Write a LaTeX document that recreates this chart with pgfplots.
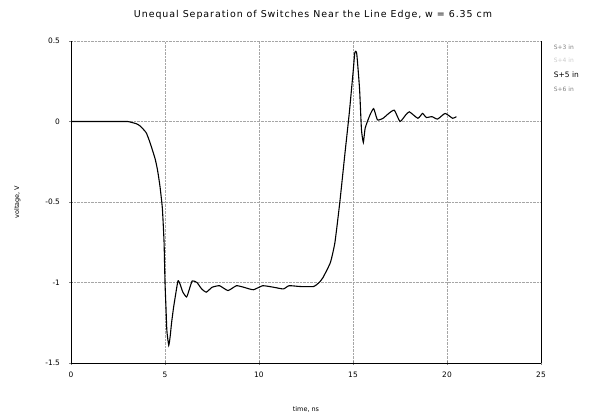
\documentclass[border=0pt]{standalone}
\usepackage{fontspec}
\setmainfont{DejaVu Sans}
\usepackage{pgfplots}
\pgfplotsset{compat=1.18}
\begin{document}
\begin{tikzpicture}
\begin{axis}[
  scale only axis,
  width=470bp, height=322bp,
  xmin=0, xmax=25, ymin=-1.5, ymax=0.5,
  xtick={0,5,10,15,20,25},
  ytick={-1.5,-1,-0.5,0,0.5},
  axis x line*=bottom, axis y line*=left,
  tick align=center,
  major tick length=3bp,
  grid=major,
  major grid style={densely dotted, gray!70, line width=0.5pt},
  /pgf/number format/assume math mode=true,
  ticklabel style={font=\fontsize{7.5}{8}\selectfont},
  xticklabel style={yshift=-4bp},
  yticklabel style={/pgf/number format/fixed, xshift=-6bp},
  xlabel={time, ns},
  ylabel={voltage, V},
  label style={font=\fontsize{6.5}{7}\selectfont},
  xlabel style={yshift=-22bp},
  ylabel style={yshift=18bp},
  title={\addfontfeatures{LetterSpace=10}Unequal Separation of Switches Near the Line Edge, w = 6.35 cm},
  title style={font=\fontsize{9.5}{10}\selectfont, yshift=12bp, xshift=7bp},
  clip=false,
]
\addplot[black, line width=1.1pt, smooth, tension=0.3] coordinates {
(0,0) (1,0) (2,0) (3,0) (3.2,-0.005) (3.5,-0.015) (3.7,-0.03) (4.0,-0.07) (4.2,-0.13) (4.47,-0.23) (4.6,-0.3) (4.73,-0.4) (4.86,-0.54) (4.95,-0.75) (5.0,-1.0) (5.05,-1.15) (5.1,-1.3) (5.2,-1.39) (5.28,-1.33) (5.35,-1.25) (5.45,-1.16) (5.53,-1.1) (5.69,-0.99) (5.8,-1.01) (5.95,-1.06) (6.15,-1.09) (6.3,-1.04) (6.45,-0.99) (6.7,-1.0) (6.95,-1.04) (7.2,-1.06) (7.5,-1.03) (7.9,-1.02) (8.35,-1.05) (8.8,-1.02) (9.2,-1.03) (9.7,-1.045) (10.2,-1.02) (10.8,-1.03) (11.3,-1.04) (11.6,-1.02) (12.2,-1.025) (12.9,-1.025) (13.2,-1.0) (13.4,-0.97) (13.8,-0.875) (14.04,-0.75) (14.3,-0.5) (14.57,-0.2) (14.8,0.05) (15.0,0.3) (15.1,0.43) (15.2,0.42) (15.35,0.2) (15.45,-0.05) (15.55,-0.13) (15.65,-0.04) (15.9,0.04) (16.1,0.08) (16.3,0.01) (16.6,0.02) (16.9,0.05) (17.2,0.07) (17.5,0.0) (17.8,0.04) (18.0,0.06) (18.45,0.02) (18.7,0.05) (18.9,0.025) (19.2,0.03) (19.5,0.015) (19.9,0.05) (20.3,0.02) (20.5,0.03)
};
\draw[black, line width=0.6pt] (rel axis cs:1,0) -- (rel axis cs:1,1);
\node[anchor=west, font=\fontsize{6}{6}\selectfont, text=gray] at (rel axis cs:1.02,0.98) {S+3 in};
\node[anchor=west, font=\fontsize{6}{6}\selectfont, text=gray!40] at (rel axis cs:1.02,0.94) {S+4 in};
\node[anchor=west, font=\fontsize{7.5}{8}\selectfont, text=black] at (rel axis cs:1.02,0.895) {S+5 in};
\node[anchor=west, font=\fontsize{6}{6}\selectfont, text=gray] at (rel axis cs:1.02,0.85) {S+6 in};
\end{axis}
\path[use as bounding box] (current axis.south west) ++(-71bp,-55bp) rectangle ++(592bp,418bp);
\end{tikzpicture}
\end{document}
